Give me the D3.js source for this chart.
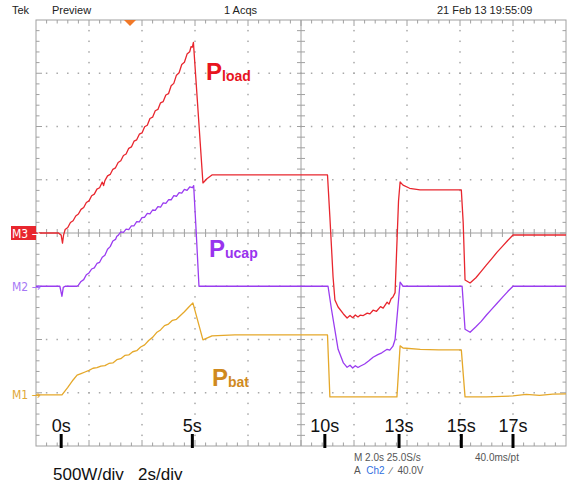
<!DOCTYPE html>
<meta charset="utf-8">
<style>
  body { margin: 0; background: #fff; }
  text { font-family: Arial, "Liberation Sans", sans-serif; white-space: pre; }
  .scope { font-family: "Liberation Sans Narrow", "DejaVu Sans Condensed", Arial, sans-serif; }
</style>
<script src="https://d3js.org/d3.v7.min.js"></script>
<div id="scope"></div>
<script>

// ---- data (time in s, power in W) ----
var loadT = [-1, -0.15, -0.05, 0.0, 0.04, 0.1, 0.2, 0.3, 0.4, 0.5, 0.6, 0.7, 0.8, 0.9, 1.0, 1.1, 1.2, 1.3, 1.4, 1.5, 1.55, 1.6, 1.7, 1.8, 1.9, 2.0, 2.1, 2.2, 2.3, 2.4, 2.5, 2.6, 2.7, 2.8, 2.9, 3.0, 3.1, 3.2, 3.3, 3.4, 3.5, 3.6, 3.7, 3.8, 3.9, 4.0, 4.1, 4.2, 4.3, 4.4, 4.5, 4.6, 4.7, 4.8, 4.85, 4.9, 4.94, 5.3, 5.45, 5.64, 10.0, 10.09, 10.21, 10.28, 10.4, 10.6, 10.74, 10.85, 10.95, 11.05, 11.15, 11.23, 11.35, 11.5, 11.6, 11.72, 11.85, 12.0, 12.1, 12.25, 12.32, 12.4, 12.47, 12.55, 12.68, 12.74, 12.85, 13.1, 13.49, 15.05, 15.12, 15.19, 15.38, 15.6, 15.8, 16.0, 16.2, 16.4, 16.6, 16.8, 17.0, 19];
var loadW = [0, 0, -20, -95, -20, 33, 52, 98, 115, 160, 178, 222, 240, 287, 302, 350, 365, 412, 425, 478, 445, 492, 536, 550, 598, 612, 662, 678, 728, 742, 795, 808, 862, 875, 928, 940, 998, 1012, 1075, 1088, 1148, 1160, 1222, 1234, 1296, 1308, 1382, 1405, 1482, 1505, 1582, 1603, 1680, 1702, 1750, 1745, 1790, 470, 510, 545, 545, 150, -413, -629, -695, -760, -798, -775, -795, -770, -788, -772, -775, -752, -760, -725, -735, -692, -705, -650, -668, -618, -601, -560, 300, 479, 450, 420, 404, 404, 100, -441, -469, -420, -360, -300, -240, -180, -125, -70, -19, -19];

var ucapT = [-1, -0.1, -0.02, 0.03, 0.1, 0.55, 0.6, 0.7, 0.8, 0.9, 1.0, 1.1, 1.2, 1.3, 1.4, 1.5, 1.6, 1.7, 1.8, 1.9, 2.0, 2.05, 2.1, 2.2, 2.3, 2.4, 2.5, 2.6, 2.7, 2.8, 2.9, 3.0, 3.1, 3.2, 3.3, 3.4, 3.5, 3.6, 3.7, 3.8, 3.9, 4.0, 4.1, 4.2, 4.3, 4.4, 4.5, 4.6, 4.7, 4.8, 4.9, 4.95, 5.04, 5.15, 10.02, 10.15, 10.4, 10.6, 10.74, 10.85, 10.95, 11.05, 11.15, 11.23, 11.4, 11.55, 11.72, 11.9, 12.05, 12.25, 12.35, 12.47, 12.55, 12.74, 12.85, 15.08, 15.19, 15.38, 15.6, 15.8, 16.0, 16.2, 16.4, 16.6, 16.8, 17.0, 19];
var ucapW = [0, 0, -94, -10, 0, 0, 10, 45, 62, 108, 125, 162, 172, 214, 225, 272, 292, 348, 372, 425, 440, 470, 478, 510, 505, 536, 532, 566, 568, 606, 605, 645, 648, 684, 680, 716, 712, 748, 742, 782, 778, 812, 812, 850, 845, 880, 875, 910, 900, 932, 925, 945, 535, 0, 0, -216, -592, -720, -761, -742, -768, -746, -763, -751, -730, -702, -667, -642, -625, -592, -600, -563, -500, 38, 0, 0, -404, -432, -380, -330, -270, -215, -160, -105, -50, 0, 0];

var batT = [-1, -0.02, 0.2, 0.4, 0.55, 0.7, 0.85, 1.0, 1.15, 1.3, 1.45, 1.6, 1.75, 1.9, 2.05, 2.2, 2.35, 2.5, 2.65, 2.8, 2.95, 3.1, 3.25, 3.4, 3.55, 3.7, 3.85, 4.0, 4.15, 4.3, 4.45, 4.6, 4.75, 4.92, 5.3, 5.64, 6.5, 10.0, 10.09, 12.62, 12.74, 12.85, 13.5, 14.2, 15.05, 15.19, 16.0, 17.0, 17.5, 18.0, 18.5, 19];
var batW = [0, 0, 70, 140, 185, 200, 215, 230, 250, 255, 270, 275, 295, 300, 330, 340, 370, 375, 405, 415, 450, 470, 510, 540, 585, 610, 650, 665, 700, 710, 745, 780, 820, 864, 516, 554, 563, 563, -19, -19, 460, 440, 428, 423, 423, -19, -19, -10, 5, -5, 8, 10];

// bottom time markers
var markT = [-0.05, 4.9, 9.9, 12.7, 15.05, 17.0];
var markLabels = ["0s", "5s", "10s", "13s", "15s", "17s"];

var svg = d3.select("#scope").append("svg")
    .attr("width", 568)
    .attr("height", 484);

// 10 x 2s divisions, 8 x 500W divisions
var x = d3.scaleLinear().domain([-1, 19]).range([36, 566]);
var y = d3.scaleLinear().domain([-2000, 2000]).range([446, 20]);

var gridCol = "#a0a0a0";
var dx = (x(1) - x(-1)) / 5, dy = (y(0) - y(500)) / 5;

// dotted graticule
for (var i = 1; i < 10; i++) {
  if (i == 5) continue;
  var gx = x(-1 + 2 * i);
  for (var k = 1; k < 40; k++) {
    svg.append("rect").attr("x", gx - 0.75).attr("y", y(2000) + k * dy - 0.75)
      .attr("width", 1.5).attr("height", 1.5).attr("fill", "#a8a8a8");
  }
}
for (var j = 1; j < 8; j++) {
  if (j == 4) continue;
  var gy = y(-2000 + 500 * j);
  for (var k = 1; k < 50; k++) {
    svg.append("rect").attr("x", x(-1) + k * dx - 0.75).attr("y", gy - 0.75)
      .attr("width", 1.5).attr("height", 1.5).attr("fill", "#a8a8a8");
  }
}

// border
svg.append("rect").attr("x", x(-1)).attr("y", y(2000))
  .attr("width", x(19) - x(-1)).attr("height", y(-2000) - y(2000))
  .attr("fill", "none").attr("stroke", gridCol).attr("stroke-width", 1);

// centre axes
svg.append("line").attr("x1", x(-1)).attr("x2", x(19)).attr("y1", y(0)).attr("y2", y(0))
  .attr("stroke", gridCol);
svg.append("line").attr("x1", x(9)).attr("x2", x(9)).attr("y1", y(2000)).attr("y2", y(-2000))
  .attr("stroke", gridCol);

// ticks on axes and border
for (var k = 1; k < 50; k++) {
  var tx = x(-1) + k * dx, big = (k % 5 == 0) ? 6 : 3.5;
  svg.append("line").attr("x1", tx).attr("x2", tx).attr("y1", y(0) - 4).attr("y2", y(0) + 4).attr("stroke", gridCol);
  svg.append("line").attr("x1", tx).attr("x2", tx).attr("y1", y(2000)).attr("y2", y(2000) + big).attr("stroke", gridCol);
  svg.append("line").attr("x1", tx).attr("x2", tx).attr("y1", y(-2000)).attr("y2", y(-2000) - big).attr("stroke", gridCol);
}
for (var k = 1; k < 40; k++) {
  var ty = y(2000) + k * dy, big = (k % 5 == 0) ? 6 : 3.5;
  svg.append("line").attr("x1", x(9) - 4).attr("x2", x(9) + 4).attr("y1", ty).attr("y2", ty).attr("stroke", gridCol);
  svg.append("line").attr("x1", x(-1)).attr("x2", x(-1) + big).attr("y1", ty).attr("y2", ty).attr("stroke", gridCol);
  svg.append("line").attr("x1", x(19)).attr("x2", x(19) - big).attr("y1", ty).attr("y2", ty).attr("stroke", gridCol);
}

// traces, each shifted to its own reference level
var channels = [
  {t: batT, w: batW, off: -1520, color: "#e5a82a"},
  {t: ucapT, w: ucapW, off: -500, color: "#9a3cf0"},
  {t: loadT, w: loadW, off: 0, color: "#e8262e"}
];
channels.forEach(function(c) {
  var pts = c.t.map(function(t, i) { return [t, c.w[i] + c.off]; });
  svg.append("path")
    .datum(pts)
    .attr("fill", "none")
    .attr("stroke", c.color)
    .attr("stroke-width", 1.3)
    .attr("stroke-linejoin", "round")
    .attr("d", d3.line().x(function(d) { return x(d[0]); }).y(function(d) { return y(d[1]); }));
});

// header
var head = svg.append("g").attr("class", "scope").style("font-size", "11px").attr("fill", "#222");
head.append("text").attr("x", 12).attr("y", 14).text("Tek");
head.append("text").attr("x", 52).attr("y", 14).text("Preview");
head.append("text").attr("x", 224).attr("y", 14).text("1 Acqs");
head.append("text").attr("x", 437).attr("y", 14).text("21 Feb 13 19:55:09");

// trigger position marker
svg.append("path").attr("d", "M124,20 L136,20 L130,26 Z").attr("fill", "#f07828");

// channel reference markers
svg.append("rect").attr("x", 11).attr("y", y(0) - 7).attr("width", 25).attr("height", 14).attr("fill", "#e8262e");
svg.append("text").attr("class", "scope").attr("x", 12).attr("y", y(0) + 4.5).attr("fill", "#fff")
  .style("font-size", "12px").text("M3 \u2192");
svg.append("text").attr("class", "scope").attr("x", 12).attr("y", y(-500) + 4.5).attr("fill", "#a678f5")
  .style("font-size", "12px").text("M2 \u2192");
svg.append("text").attr("class", "scope").attr("x", 12).attr("y", y(-1520) + 4.5).attr("fill", "#e0a838")
  .style("font-size", "12px").text("M1 \u2192");

// trace labels
function pLabel(px, py, sub, col) {
  var t = svg.append("text").attr("x", px).attr("y", py).attr("fill", col).style("font-weight", "bold");
  t.append("tspan").style("font-size", "24px").text("P");
  t.append("tspan").style("font-size", "14px").attr("dy", 1).text(sub);
}
pLabel(206, 80, "load", "#e8141e");
pLabel(209, 257, "ucap", "#9933ee");
pLabel(212, 386, "bat", "#d08a1e");

// time markers
markT.forEach(function(t, i) {
  svg.append("line").attr("x1", x(t)).attr("x2", x(t)).attr("y1", 434).attr("y2", 448)
    .attr("stroke", "#000").attr("stroke-width", 3);
  svg.append("text").attr("x", x(t)).attr("y", 432).attr("text-anchor", "middle")
    .style("font-size", "18px").attr("fill", "#111").text(markLabels[i]);
});

svg.append("text").attr("x", 53).attr("y", 480).style("font-size", "17px").attr("fill", "#111")
  .text("500W/div\u00a0\u00a0 2s/div");

// acquisition readout
var foot = svg.append("g").attr("class", "scope").style("font-size", "10px").attr("fill", "#555");
foot.append("text").attr("x", 354).attr("y", 461).text("M 2.0s 25.0S/s");
foot.append("text").attr("x", 475).attr("y", 461).text("40.0ms/pt");
var a = foot.append("text").attr("x", 354).attr("y", 474);
a.append("tspan").text("A\u00a0 ");
a.append("tspan").attr("fill", "#3070e0").text("Ch2");
a.append("tspan").text("\u00a0\u00a0\u2215\u00a0\u00a040.0V");

</script>
